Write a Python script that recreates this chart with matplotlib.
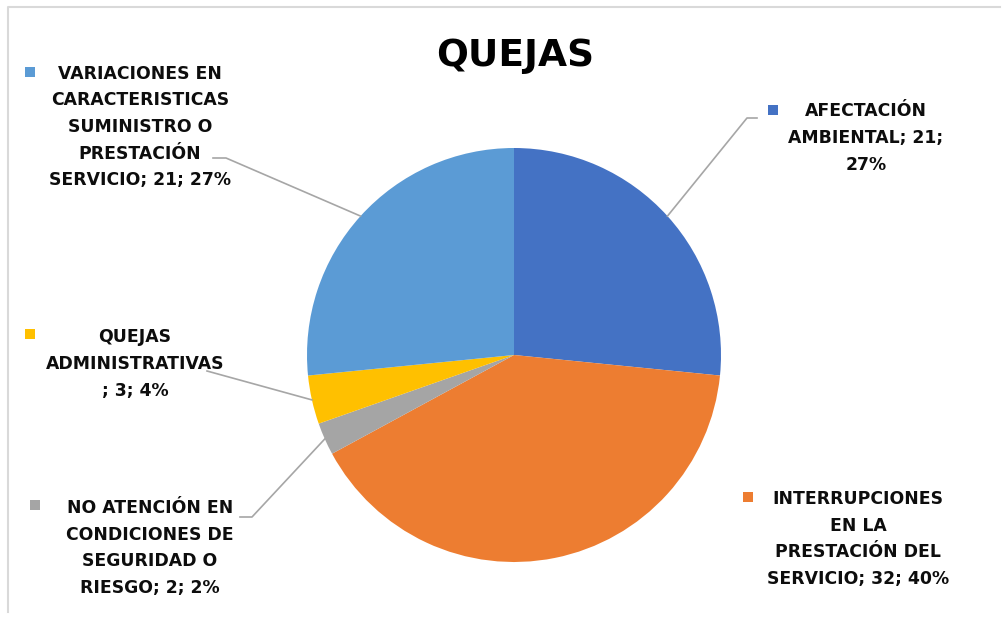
import numpy as np
import matplotlib
matplotlib.use('Agg')
from matplotlib import pyplot as plt

# data
categories = ['AFECTACIÓN AMBIENTAL', 'INTERRUPCIONES EN LA PRESTACIÓN DEL SERVICIO',
              'NO ATENCIÓN EN CONDICIONES DE SEGURIDAD O RIESGO', 'QUEJAS ADMINISTRATIVAS',
              'VARIACIONES EN CARACTERISTICAS SUMINISTRO O PRESTACIÓN SERVICIO']
values = [21, 32, 2, 3, 21]
percent_labels = ['27%', '40%', '2%', '4%', '27%']
colors = ['#4472C4', '#ED7D31', '#A5A5A5', '#FFC000', '#5B9BD5']

# label text as it is broken into lines in the chart
label_lines = [
    'AFECTACIÓN\nAMBIENTAL; {v};\n{p}',
    'INTERRUPCIONES\nEN LA\nPRESTACIÓN DEL\nSERVICIO; {v}; {p}',
    'NO ATENCIÓN EN\nCONDICIONES DE\nSEGURIDAD O\nRIESGO; {v}; {p}',
    'QUEJAS\nADMINISTRATIVAS\n; {v}; {p}',
    'VARIACIONES EN\nCARACTERISTICAS\nSUMINISTRO O\nPRESTACIÓN\nSERVICIO; {v}; {p}',
]

W, H = 1006, 619
fig = plt.figure(figsize=(W / 100, H / 100), dpi=100)
ax = fig.add_axes([0, 0, 1, 1])

cx, cy, r = 514, H - 355, 207
wedges, _ = ax.pie(values, colors=colors, startangle=90, counterclock=False,
                   center=(cx, cy), radius=r, wedgeprops=dict(linewidth=0))
ax.set_xlim(0, W)
ax.set_ylim(0, H)
ax.set_aspect('equal')
ax.axis('off')

# chart frame (only left and top visible)
ax.plot([8, 8, 1000], [H - 612, H - 7, H - 7], color='#D9D9D9', lw=1.5)

ax.text(515, H - 56, 'QUEJAS', ha='center', va='center', fontsize=27,
        fontweight='bold', color='black')

# label placement: text center, marker position, leader line elbow points (pixels, y down)
text_pos = [(866, 138), (858, 539), (150, 548), (135, 364), (140, 127)]
marker_pos = [(773, 110), (748, 497), (35, 505), (30, 334), (30, 72)]
leaders = [
    [(757, 118), (747, 118)],
    None,
    [(240, 517), (252, 517)],
    [(207, 371)],
    [(213, 158), (226, 158)],
]

for i, w in enumerate(wedges):
    txt = label_lines[i].format(v=values[i], p=percent_labels[i])
    tx, ty = text_pos[i]
    ax.text(tx, H - ty, txt, ha='center', va='center', fontsize=12.4,
            fontweight='bold', linespacing=1.62, color='#0D0D0D')
    mx, my = marker_pos[i]
    ax.scatter([mx], [H - my], marker='s', s=50, color=colors[i], linewidths=0)
    if leaders[i] is not None:
        mid = np.deg2rad((w.theta1 + w.theta2) / 2)
        px, py = cx + r * np.cos(mid), cy + r * np.sin(mid)
        xs = [p[0] for p in leaders[i]] + [px]
        ys = [H - p[1] for p in leaders[i]] + [py]
        ax.plot(xs, ys, color='#A6A6A6', lw=1.2)

fig.savefig('out.png', dpi=100, facecolor='white')
